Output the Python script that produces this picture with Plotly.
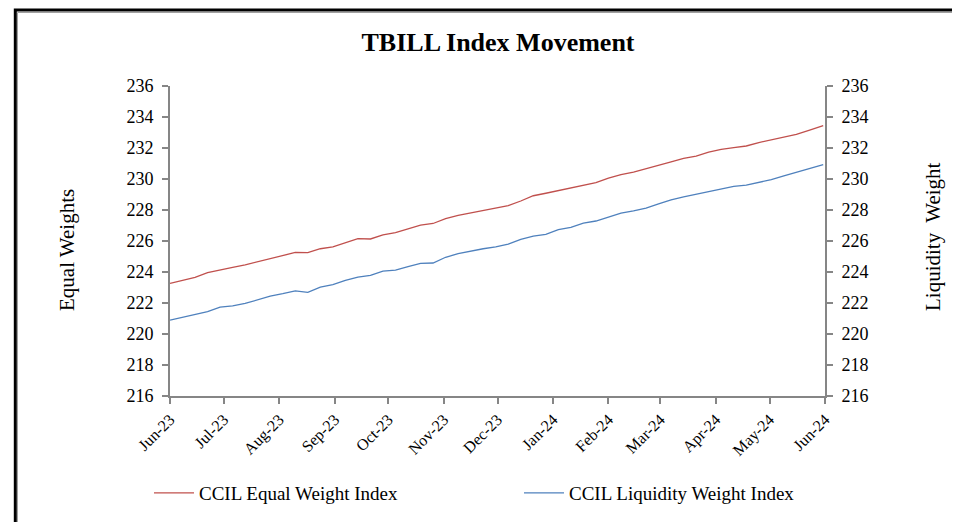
import datetime as dt
import plotly.graph_objects as go

# Days offset from 2023-06-01 (weekly sampling)
day_offsets = [0, 7, 14, 21, 28, 35, 42, 49, 56, 63, 70, 77, 84, 91, 98, 105, 112, 119, 126, 133,
               140, 147, 154, 161, 168, 175, 182, 189, 196, 203, 210, 217, 224, 231, 238, 245, 252,
               259, 266, 273, 280, 287, 294, 301, 308, 315, 322, 329, 336, 343, 350, 357, 364, 365]

equal_weight = [223.27, 223.45, 223.65, 223.96, 224.15, 224.30, 224.46, 224.66, 224.85, 225.05,
                225.26, 225.25, 225.50, 225.62, 225.87, 226.15, 226.13, 226.39, 226.54, 226.76,
                227.02, 227.13, 227.45, 227.65, 227.80, 227.96, 228.12, 228.28, 228.58, 228.92,
                229.08, 229.24, 229.41, 229.57, 229.76, 230.06, 230.28, 230.45, 230.66, 230.84,
                231.10, 231.33, 231.48, 231.73, 231.91, 232.03, 232.13, 232.35, 232.53, 232.70,
                232.88, 233.14, 233.40, 233.45]

liquidity_weight = [220.90, 221.08, 221.25, 221.44, 221.73, 221.82, 221.97, 222.22, 222.44, 222.60,
                    222.78, 222.69, 223.02, 223.18, 223.46, 223.67, 223.78, 224.05, 224.12, 224.34,
                    224.55, 224.58, 224.95, 225.18, 225.36, 225.50, 225.62, 225.80, 226.10, 226.32,
                    226.43, 226.73, 226.88, 227.15, 227.29, 227.55, 227.80, 227.95, 228.12, 228.40,
                    228.65, 228.84, 229.00, 229.20, 229.33, 229.52, 229.60, 229.78, 229.96, 230.20,
                    230.42, 230.68, 230.90, 230.93]

tick_labels = ["Jun-23", "Jul-23", "Aug-23", "Sep-23", "Oct-23", "Nov-23", "Dec-23",
               "Jan-24", "Feb-24", "Mar-24", "Apr-24", "May-24", "Jun-24"]
tick_dates = ["2023-06-01", "2023-07-01", "2023-08-01", "2023-09-01", "2023-10-01", "2023-11-01",
              "2023-12-01", "2024-01-01", "2024-02-01", "2024-03-01", "2024-04-01", "2024-05-01",
              "2024-06-01"]

start = dt.date(2023, 6, 1)
dates = [start + dt.timedelta(days=d) for d in day_offsets]

FONT = "Liberation Serif"
AXIS_COLOR = "#868686"

# plot area in figure pixels
L, T, W, H = 162, 78, 655, 310


def px(x):
    return (x - L) / W


def py(y):
    return (T + H - y) / H


fig = go.Figure()
fig.add_trace(go.Scatter(x=dates, y=equal_weight, mode="lines", name="CCIL Equal Weight Index",
                         line=dict(color="#C0504D", width=1.3), legend="legend"))
fig.add_trace(go.Scatter(x=dates, y=liquidity_weight, mode="lines", name="CCIL Liquidity Weight Index",
                         line=dict(color="#4F81BD", width=1.3), yaxis="y2", legend="legend2"))

yax = dict(range=[216, 236], dtick=2, showgrid=False, zeroline=False, showline=True,
           linecolor=AXIS_COLOR, linewidth=2, ticks="outside", ticklen=6, tickwidth=1.5,
           tickcolor=AXIS_COLOR, ticklabelstandoff=5,
           tickfont=dict(family=FONT, size=18, color="black"))

leg = dict(orientation="h", y=py(485), yanchor="middle",
           font=dict(family=FONT, size=19, color="black"), bgcolor="rgba(0,0,0,0)",
           itemwidth=40)

fig.update_layout(
    width=960, height=522,
    margin=dict(l=L, r=960 - L - W, t=T, b=522 - T - H),
    paper_bgcolor="white", plot_bgcolor="white",
    showlegend=True,
    title=dict(text="<b>TBILL Index Movement</b>", x=490 / 960, xanchor="center",
               xref="container", y=1 - 34 / 522, yanchor="middle",
               font=dict(family=FONT, size=26, color="black")),
    xaxis=dict(type="date", range=["2023-06-01", "2024-06-01"], tickvals=tick_dates, ticktext=tick_labels,
               tickangle=-45, showgrid=False, zeroline=False, showline=True, linecolor=AXIS_COLOR,
               linewidth=2, ticks="outside", ticklen=6, tickwidth=1.5, tickcolor=AXIS_COLOR,
               tickfont=dict(family=FONT, size=16, color="black")),
    yaxis=yax,
    yaxis2=dict(yax, overlaying="y", side="right"),
    legend=dict(leg, x=px(141), xanchor="left"),
    legend2=dict(leg, x=px(511), xanchor="left"),
    annotations=[
        dict(text="Equal Weights", xref="paper", yref="paper", x=px(59), y=py(242), textangle=-90,
             xanchor="center", yanchor="middle",
             showarrow=False, font=dict(family=FONT, size=21, color="black")),
        dict(text="Liquidity  Weight", xref="paper", yref="paper", x=px(925), y=py(229), textangle=-90,
             xanchor="center", yanchor="middle",
             showarrow=False, font=dict(family=FONT, size=21, color="black")),
    ],
    shapes=[
        dict(type="rect", xref="paper", yref="paper", x0=px(7.3), x1=px(1000),
             y0=py(560), y1=py(2), line=dict(color="black", width=3)),
        dict(type="rect", xref="paper", yref="paper", x0=px(9.5), x1=px(1000),
             y0=py(560), y1=py(4.5), line=dict(color="#A0A0A0", width=1)),
    ],
)

fig.write_html("out.html")
